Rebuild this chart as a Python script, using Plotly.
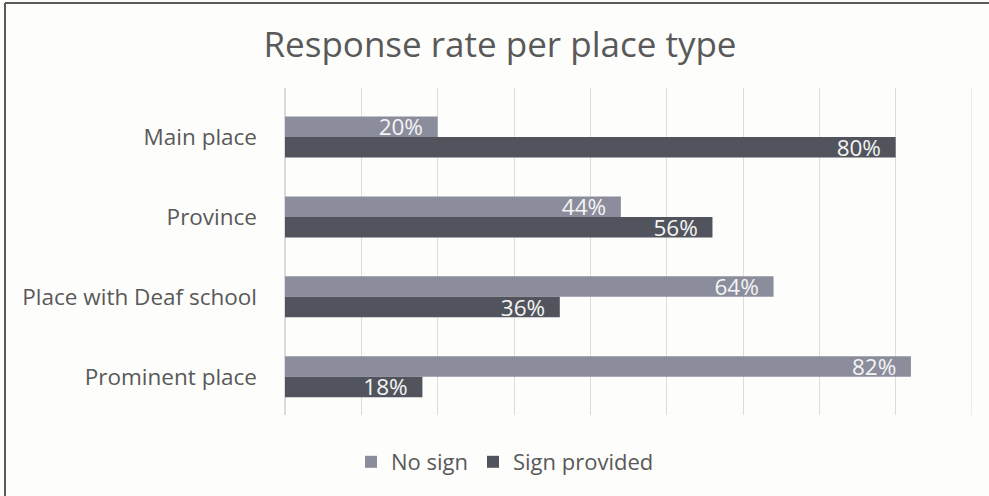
import plotly.graph_objects as go

categories = ["Main place", "Province", "Place with Deaf school", "Prominent place"]
no_sign = [0.20, 0.44, 0.64, 0.82]
sign_provided = [0.80, 0.56, 0.36, 0.18]
series_names = ["No sign", "Sign provided"]

FONT = "Open Sans"
PAD = "\u00a0\u00a0"
fig = go.Figure()
fig.add_trace(go.Bar(
    y=categories, x=no_sign, name=series_names[0], orientation="h",
    marker=dict(color="#8b8d9c", line=dict(width=0)),
    text=[f"{v:.0%}{PAD}" for v in no_sign], textposition="inside",
    insidetextanchor="end", constraintext="none",
    textfont=dict(family=FONT, size=22.5, color="#f4f4f4"),
))
fig.add_trace(go.Bar(
    y=categories, x=sign_provided, name=series_names[1], orientation="h",
    marker=dict(color="#51545c", line=dict(width=0)),
    text=[f"{v:.0%}{PAD}" for v in sign_provided], textposition="inside",
    insidetextanchor="end", constraintext="none",
    textfont=dict(family=FONT, size=22.5, color="#f4f4f4"),
))

L, R, T, B = 285, 972, 88, 415
PW, PH = R - L, B - T
XMAX = 0.9

fig.update_layout(
    width=989, height=496,
    margin=dict(l=L, r=989 - R, t=T, b=496 - B, autoexpand=False),
    paper_bgcolor="#fdfdfb", plot_bgcolor="#fdfdfb",
    barmode="group", bargap=0.486, bargroupgap=0,
    title=dict(text="Response rate per place type", x=(500 - L) / PW, xref="paper",
               xanchor="center", y=1 - 45 / 496, yref="container", yanchor="middle",
               font=dict(family=FONT, size=35, color="#595959")),
    font=dict(family=FONT, color="#595959"),
    xaxis=dict(range=[0, XMAX], tickvals=[i / 10 for i in range(10)], showticklabels=False,
               showgrid=True, gridcolor="#dcdcdc", gridwidth=1,
               zeroline=True, zerolinecolor="#dcdcdc", showline=False, fixedrange=True),
    yaxis=dict(categoryorder="array", categoryarray=categories,
               range=[3.48, -0.614], showgrid=False, showline=False,
               ticks="", ticklabelstandoff=27,
               tickfont=dict(family=FONT, size=22.5, color="#595959")),
    legend=dict(orientation="h", x=(505 - L) / PW, xanchor="center",
                y=(B - 462) / PH, yanchor="middle", traceorder="normal",
                font=dict(family=FONT, size=22, color="#595959"),
                bgcolor="rgba(0,0,0,0)"),
    shapes=[
        dict(type="line", xref="x", yref="paper", x0=XMAX, x1=XMAX, y0=0, y1=1,
             line=dict(color="#dcdcdc", width=1), layer="below"),
        dict(type="line", xref="paper", yref="paper",
             x0=(5 - L) / PW, x1=(989 - L) / PW, y0=(B - 3) / PH, y1=(B - 3) / PH,
             line=dict(color="#5a5a5a", width=2), layer="below"),
        dict(type="line", xref="paper", yref="paper",
             x0=(5 - L) / PW, x1=(5 - L) / PW, y0=(B - 496) / PH, y1=(B - 3) / PH,
             line=dict(color="#5a5a5a", width=2), layer="below"),
    ],
    showlegend=True,
)

fig.write_html("out.html")
